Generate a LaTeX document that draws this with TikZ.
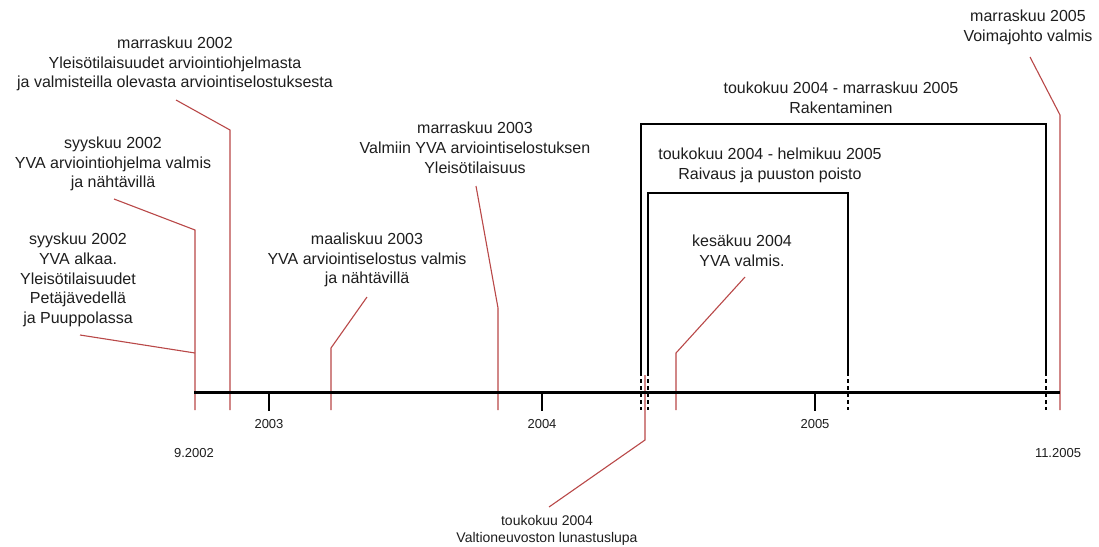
\documentclass[tikz,border=0pt]{standalone}
\usepackage{fontspec}
\setmainfont{Liberation Sans}
\definecolor{redc}{RGB}{185,72,72}
\definecolor{txtc}{RGB}{30,30,30}
\begin{document}
\begin{tikzpicture}[x=1pt,y=-1pt,
 lbl/.style={font=\fontsize{16}{19.8}\selectfont,align=center,inner sep=0pt,text=txtc},
 sml/.style={font=\fontsize{13}{17}\selectfont,align=center,inner sep=0pt,text=txtc},
 smlb/.style={font=\fontsize{14}{17}\selectfont,align=center,inner sep=0pt,text=txtc},
 callout/.style={draw=redc,line width=1.1pt},
 axisline/.style={line width=3pt},
 brk/.style={line width=2pt,line join=miter},
 brkdash/.style={line width=1.2pt,dash pattern=on 4pt off 3pt},
 ytick/.style={line width=1.2pt}]
\useasboundingbox (0,0) rectangle (1099,546);
\fill[white] (0,0) rectangle (1099,546);

% ---- text nodes
\node[lbl] (A) at (78,280) {syyskuu 2002\\YVA alkaa.\\Yleisötilaisuudet\\Petäjävedellä\\ja Puuppolassa};
\node[lbl] (B) at (113,164) {syyskuu 2002\\YVA arviointiohjelma valmis\\ja nähtävillä};
\node[lbl] (C) at (175,64) {marraskuu 2002\\Yleisötilaisuudet arviointiohjelmasta\\ja valmisteilla olevasta arviointiselostuksesta};
\node[lbl] (D) at (367,260) {maaliskuu 2003\\YVA arviointiselostus valmis\\ja nähtävillä};
\node[lbl] (E) at (475,148) {marraskuu 2003\\Valmiin YVA arviointiselostuksen\\Yleisötilaisuus};
\node[lbl] (F) at (841,98) {toukokuu 2004 - marraskuu 2005\\Rakentaminen};
\node[lbl] (G) at (770,165) {toukokuu 2004 - helmikuu 2005\\Raivaus ja puuston poisto};
\node[lbl] (H) at (742,251) {kesäkuu 2004\\YVA valmis.};
\node[lbl] (I) at (1028,27) {marraskuu 2005\\Voimajohto valmis};
\node[smlb] (J) at (547,530) {toukokuu 2004\\Valtioneuvoston lunastuslupa};
\node[sml] (y3) at (269,424) {2003};
\node[sml] (y4) at (542,424) {2004};
\node[sml] (y5) at (815,424) {2005};
\node[sml] (d0) at (194,453) {9.2002};
\node[sml] (d1) at (1058,453) {11.2005};

% ---- coordinates
\coordinate (Aend) at (80,335);   \coordinate (Ajoin) at (195,353);
\coordinate (Bend) at (114,199);  \coordinate (Bbend) at (195,230); \coordinate (Bbot) at (195,410);
\coordinate (Cend) at (176,100);  \coordinate (Cbend) at (230,130); \coordinate (Cbot) at (230,410);
\coordinate (Dend) at (367,297);  \coordinate (Dbend) at (331,348); \coordinate (Dbot) at (331,410);
\coordinate (Eend) at (476,186);  \coordinate (Ebend) at (498,308); \coordinate (Ebot) at (498,410);
\coordinate (Jend) at (549,507);  \coordinate (Jbend) at (645,440); \coordinate (Jtop) at (645,375);
\coordinate (Hend) at (745,277);  \coordinate (Hbend) at (676,353); \coordinate (Hbot) at (676,410);
\coordinate (Iend) at (1030,57);  \coordinate (Ibend) at (1060,115); \coordinate (Ibot) at (1060,410);

% ---- red callouts
\draw[callout] (Bend) -- (Bbend) -- (Bbot);
\draw[callout] (Aend) -- (Ajoin);
\draw[callout] (Cend) -- (Cbend) -- (Cbot);
\draw[callout] (Dend) -- (Dbend) -- (Dbot);
\draw[callout] (Eend) -- (Ebend) -- (Ebot);
\draw[callout] (Jend) -- (Jbend) -- (Jtop);
\draw[callout] (Hend) -- (Hbend) -- (Hbot);
\draw[callout] (Iend) -- (Ibend) -- (Ibot);

% ---- brackets
\coordinate (rkL) at (641,372); \coordinate (rkLt) at (641,124);
\coordinate (rkR) at (1046,372); \coordinate (rkRt) at (1046,124);
\coordinate (rkLb) at (641,410); \coordinate (rkRb) at (1046,410);
\draw[brk] (rkL) -- (rkLt) -- (rkRt) -- (rkR);
\draw[brkdash] (rkL) -- (rkLb);
\draw[brkdash] (rkR) -- (rkRb);

\coordinate (rvL) at (648,372); \coordinate (rvLt) at (648,193);
\coordinate (rvR) at (848,372); \coordinate (rvRt) at (848,193);
\coordinate (rvLb) at (648,410); \coordinate (rvRb) at (848,410);
\draw[brk] (rvL) -- (rvLt) -- (rvRt) -- (rvR);
\draw[brkdash] (rvL) -- (rvLb);
\draw[brkdash] (rvR) -- (rvRb);

% ---- axis and year ticks
\coordinate (ax0) at (194,392);
\coordinate (ax1) at (1060,392);
\draw[axisline] (ax0) -- (ax1);
\coordinate (t3) at (269,392); \coordinate (t3b) at (269,411);
\coordinate (t4) at (542,392); \coordinate (t4b) at (542,411);
\coordinate (t5) at (815,392); \coordinate (t5b) at (815,411);
\draw[ytick] (t3) -- (t3b);
\draw[ytick] (t4) -- (t4b);
\draw[ytick] (t5) -- (t5b);
\end{tikzpicture}
\end{document}
